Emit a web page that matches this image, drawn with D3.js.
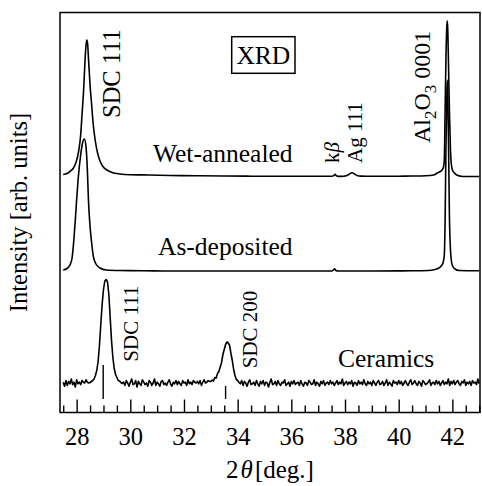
<!DOCTYPE html>
<html><head><meta charset="utf-8">
<script src="https://cdn.jsdelivr.net/npm/d3@7"></script>
<style>
body{margin:0;background:#fff}
svg{display:block}
text{font-family:"Liberation Serif","Times New Roman",serif;fill:#000}
</style>
</head><body>
<svg id="c" width="482" height="486"></svg>
<script>
// ---- data (2θ in degrees, intensity in arbitrary units, already stacked) ----
const wetTheta = [27.50,27.64,27.75,27.87,27.98,28.07,28.15,28.20,28.26,28.31,28.35,28.38,28.41,28.44,28.50,28.56,28.61,28.69,28.78,28.87,28.98,29.13,29.32,29.62,30.00,30.70,31.50,32.50,33.50,34.50,35.50,36.50,37.30,37.50,37.58,37.63,37.68,37.76,37.95,38.07,38.15,38.22,38.28,38.35,38.45,38.60,39.00,39.50,40.00,40.50,41.00,41.30,41.42,41.55,41.62,41.67,41.70,41.73,41.76,41.79,41.81,41.83,41.86,41.89,41.93,41.97,42.01,42.08,42.16,42.40,43.00];
const wetI = [238,239,241,244,250.5,260.5,277.5,297.5,322.5,350.5,367.5,372.5,368.5,354.5,327.5,307.5,290.5,272.5,259.5,251.5,246,242.5,240,238.5,237.8,237.5,237,236.7,236.5,236.3,236.2,236.2,236.3,236.3,236.9,238.2,236.7,236.1,236.3,236.9,238.2,239.5,239.7,238.5,237,236.4,236.2,236.2,236.3,236.5,236.8,237.5,239.2,241,242.5,245.5,252.5,302.5,352.5,384.5,391.8,382.5,342.5,302.5,262.5,246.5,242,239.5,237.5,236,236];

const asTheta = [27.50,27.64,27.75,27.83,27.88,27.94,28.00,28.07,28.15,28.22,28.29,28.35,28.40,28.44,28.49,28.56,28.62,28.72,28.87,29.10,29.62,30.50,31.50,33.00,35.00,37.30,37.50,37.57,37.61,37.66,37.75,39.00,40.50,41.10,41.35,41.50,41.60,41.66,41.70,41.73,41.76,41.79,41.81,41.83,41.86,41.89,41.93,41.97,42.01,42.10,42.25,43.00];
const asI = [142.5,144,147.5,154.5,167.5,188.5,212.5,237.5,257.5,269.5,273.5,265.5,242.5,212.5,189.5,169.5,156.5,148.5,144.5,142.5,142,141.8,141.5,141.5,141.5,141.5,141.5,142.5,143.7,142,141.5,141.5,141.7,142,143,144.5,147,150.5,157.5,192.5,262.5,312.5,332.5,317.5,262.5,197.5,162.5,150.5,146.5,143.5,142,141.7];

// ceramics: recorded on a 0.05° grid starting at 27.50°
const ceramicsStart = 27.50, ceramicsStep = 0.05;
const ceramicsI = [
 30.3,26.3,31.9,27.1,31.1,28.7,33.5,27.9,30.3,25.5,32.7,28.7,30.3,27.9,31.9,30.3,29.5,32.7,30.3,29.5,
 30,31,32,33.5,37,42,51,67,88,108,123,131.5,133,130.5,118,95,72,55,44,38,35,32,31.5,30,29,30.5,
 27.1,31.9,29.5,26.3,30.3,33.5,27.9,28.7,31.9,25.5,31.1,28.7,27.1,32.7,30.3,27.9,29.5,26.3,31.9,30.3,27.1,29.5,33.5,27.1,30.3,28.7,26.3,31.1,31.9,27.9,29.5,27.1,30.3,32.7,28.7,26.3,30.3,28.7,31.9,27.9,31.1,28.7,27.1,31.9,29.5,30.3,27.1,32.7,28.7,30.3,27.9,31.9,30.3,29.5,31.1,28.7,31.9,27.1,30.3,32.7,29.5,30.3,31.9,31.1,
 31,32.5,31.5,35,34.5,39,41,45.5,50,58,63,68,70.5,69.5,67,59,52,43,37,33,32,30,
 28.7,31.9,27.1,31.1,29.5,26.3,30.3,32.7,27.9,28.7,
 30.3,27.1,31.9,28.7,26.3,31.1,28.7,31.9,27.1,30.3,
 29.5,25.5,30.3,33.5,27.9,28.7,31.1,27.1,31.9,28.7,
 27.1,30.3,29.5,32.7,27.1,28.7,30.3,26.3,31.1,28.7,
 31.9,27.9,29.5,30.3,27.1,31.9,28.7,26.3,30.3,29.5,
 27.1,31.9,30.3,27.9,28.7,32.7,27.1,30.3,28.7,26.3,
 31.1,28.7,31.9,27.1,29.5,30.3,27.9,31.9,28.7,30.3,
 27.1,29.5,31.9,27.9,30.3,28.7,33.5,27.1,29.5,31.1,
 27.9,30.3,28.7,31.9,26.3,30.3,29.5,27.1,31.9,28.7,
 30.3,27.9,32.7,28.7,27.1,31.1,28.7,30.3,27.1,31.9,
 29.5,27.1,30.3,31.9,27.9,28.7,31.1,27.1,29.5,32.7,
 27.1,30.3,28.7,26.3,31.9,29.5,30.3,27.9,31.9,28.7,
 31.1,27.1,29.5,31.9,28.7,27.1,30.3,32.7,27.9,29.5,
 31.9,28.7,27.1,31.1,29.5,26.3,31.9,30.3,27.9,28.7,
 30.3,32.7,27.1,29.5,30.3,27.9,31.9,28.7,31.1,27.1,
 29.5,31.9,27.9,30.3,28.7,33.5,27.1,31.1,28.7,31.9,
 27.9,30.3,31.9,28.7,27.1,31.1,29.5,32.7,27.1,30.3,
 28.7,31.1,27.1,31.9,29.5,30.3,27.9,33.5,28.7
];

// reference stick pattern for SDC (position, top intensity)
const stickTheta = [28.99, 33.55];
const stickTop = [47.5, 26.5];
const stickBase = 13.5;

const majorTicks = [28,30,32,34,36,38,40,42];
const minorTicks = d3.range(27.5, 43.01, 0.5).filter(v => v % 2 !== 0);

// ---- drawing ----
const svg = d3.select("#c");
const x = d3.scaleLinear().domain([27.38, 43.03]).range([60, 480]);
const y = d3.scaleLinear().domain([0, 400]).range([412.5, 12.5]);

const smooth = d3.line().x(d => x(d[0])).y(d => y(d[1])).curve(d3.curveMonotoneX);
const straight = d3.line().x(d => x(d[0])).y(d => y(d[1]));

const wet = wetTheta.map((t,i) => [t, wetI[i]]);
const asd = asTheta.map((t,i) => [t, asI[i]]);
const cer = ceramicsI.map((v,i) => [ceramicsStart + i*ceramicsStep, v]);

const g = svg.append("g");
[wet, asd].forEach(s => g.append("path").attr("d", smooth(s))
  .attr("fill","none").attr("stroke","#000").attr("stroke-width",1.6).attr("stroke-linejoin","round"));
g.append("path").attr("d", straight(cer))
  .attr("fill","none").attr("stroke","#000").attr("stroke-width",1.6).attr("stroke-linejoin","round");

g.selectAll("line.stick").data(stickTheta).join("line").attr("class","stick")
  .attr("x1", d => x(d)).attr("x2", d => x(d))
  .attr("y1", y(stickBase)).attr("y2", (d,i) => y(stickTop[i]))
  .attr("stroke","#000").attr("stroke-width",1.4);

// axes (inward ticks)
const axMinor = d3.axisBottom(x).tickValues(minorTicks).tickSizeInner(-7).tickSizeOuter(0).tickFormat("");
const axMajor = d3.axisBottom(x).tickValues(majorTicks).tickSizeInner(-13).tickSizeOuter(0).tickFormat(d3.format("d"));
const gm = svg.append("g").attr("transform","translate(0,412.5)").call(axMinor);
const gM = svg.append("g").attr("transform","translate(0,412.5)").call(axMajor);
[gm, gM].forEach(a => { a.select(".domain").remove(); a.selectAll("line").attr("stroke","#000").attr("stroke-width",1.4); });
gM.selectAll("text").attr("y", 32.5).attr("dy", 0).style("font-size","24.5px")
  .style("font-family",'"Liberation Serif",serif').attr("fill","#000");

// frame
svg.append("rect").attr("x",60).attr("y",12.5).attr("width",420).attr("height",400)
  .attr("fill","none").attr("stroke","#000").attr("stroke-width",1.5);

// labels
function rot(tx, ty, size, txt, anchor) {
  return svg.append("text").attr("transform",`translate(${tx},${ty}) rotate(-90)`)
    .attr("text-anchor", anchor || "start").style("font-size", size + "px").text(txt);
}
rot(120, 118, 24.5, "SDC 111");
rot(138.3, 361.7, 21, "SDC 111");
rot(256.7, 368.3, 21, "SDC 200");
rot(362, 163, 21, "Ag 111");
const kb = rot(339, 163, 21, "k");
kb.append("tspan").style("font-style","italic").text("β");
const al = rot(430, 143, 24, "Al");
al.append("tspan").attr("dy", 6).style("font-size","17px").text("2");
al.append("tspan").attr("dy", -6).text("O");
al.append("tspan").attr("dy", 6).style("font-size","17px").text("3");
al.append("tspan").attr("dy", -6).text(" 0001");

svg.append("text").attr("x",153).attr("y",161.5).style("font-size","25.5px").text("Wet-annealed");
svg.append("text").attr("x",158).attr("y",255).style("font-size","25.5px").text("As-deposited");
svg.append("text").attr("x",338).attr("y",366.5).style("font-size","25.5px").text("Ceramics");

svg.append("rect").attr("x",231.7).attr("y",36.7).attr("width",63.3).attr("height",36.6)
  .attr("fill","none").attr("stroke","#000").attr("stroke-width",1.5);
svg.append("text").attr("x",263.3).attr("y",64).attr("text-anchor","middle").style("font-size","25.5px").text("XRD");

rot(27, 212.5, 24.5, "Intensity [arb. units]", "middle");

const xl = svg.append("text").attr("x",270).attr("y",478).attr("text-anchor","middle").style("font-size","25px");
xl.append("tspan").text("2");
xl.append("tspan").attr("dx",2).style("font-style","italic").text("θ");
xl.append("tspan").attr("dx",2).text("[deg.]");
</script>
</body></html>
